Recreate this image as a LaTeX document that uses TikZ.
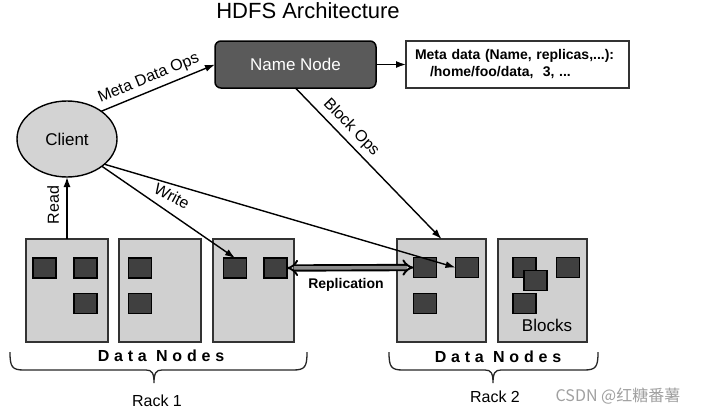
\documentclass[tikz,border=0pt]{standalone}
\usepackage{fontspec}
\setmainfont{Liberation Sans}
\newfontfamily\cjkfont{Noto Sans CJK SC}
\newfontfamily\spacedfont[LetterSpace=30]{Liberation Sans}
\usetikzlibrary{arrows.meta,shapes.geometric}
\definecolor{nnfill}{HTML}{5A5A5A}
\definecolor{boxfill}{HTML}{D0D0D0}
\definecolor{blkfill}{HTML}{404040}
\definecolor{clientfill}{HTML}{D3D3D3}
\definecolor{wmark}{HTML}{A0A0A0}
\begin{document}
\begin{tikzpicture}[x=1pt,y=-1pt,
  every node/.style={inner sep=0pt, outer sep=0pt},
  lbl/.style={font=\fontsize{16}{19}\selectfont},
  datanode/.style={draw=black!80, fill=boxfill, line width=1.3pt, minimum width=82pt, minimum height=103pt},
  block/.style={draw=black, fill=blkfill, line width=1.1pt, minimum width=23pt, minimum height=20pt},
  conn/.style={line width=1.4pt, -{Latex[length=10pt,width=7pt]}},
  dnlabel/.style={font=\spacedfont\bfseries\fontsize{16}{18}\selectfont},
  bracestyle/.style={line width=1.3pt, black!85}
]
\useasboundingbox (0,0) rectangle (703,415);
\fill[white] (0,0) rectangle (703,415);

% title
\node[font=\fontsize{22}{26}\selectfont] (title) at (308,11) {HDFS Architecture};

% name node and metadata
\node[draw=black, fill=nnfill, line width=1.5pt, rounded corners=6pt,
      minimum width=161pt, minimum height=47pt, text=white,
      font=\fontsize{17}{20}\selectfont] (nn) at (295.5,64.5) {Name Node};
\node[draw=black!80, line width=1.1pt, minimum width=223pt, minimum height=47pt,
      text width=205pt, align=left, font=\bfseries\fontsize{14}{17}\selectfont]
      (meta) at (517.5,64.5) {Meta data (Name, replicas,...):\\\hspace*{15pt}/home/foo/data,\ \ 3, ...};
\draw[conn] (nn.east) -- (meta.west);

% client
\node[ellipse, draw=black, fill=clientfill, line width=1.4pt,
      minimum width=100pt, minimum height=76pt,
      font=\fontsize{17}{20}\selectfont] (client) at (67,139) {Client};

% data nodes, rack 1
\node[datanode] (dn1) at (67,290.5) {};
\node[datanode] (dn2) at (160,290.5) {};
\node[datanode, minimum width=81pt] (dn3) at (253.5,290.5) {};
% data nodes, rack 2
\node[datanode, minimum width=89pt] (dn4) at (441.5,290.5) {};
\node[datanode, minimum width=89pt] (dn5) at (542.5,290.5) {};

% blocks
\node[block] (b11) at (44.5,268) {};
\node[block] (b12) at (85.5,268) {};
\node[block] (b13) at (85.5,303.5) {};
\node[block] (b21) at (140,268) {};
\node[block] (b22) at (140,303.5) {};
\node[block] (b31) at (235,268) {};
\node[block] (b32) at (275.5,268) {};
\node[block] (b41) at (425,267.5) {};
\node[block] (b42) at (467,267.5) {};
\node[block] (b43) at (425,303.5) {};
\node[block] (b51) at (524.5,267.5) {};
\node[block] (b52) at (535.5,280.5) {};
\node[block] (b53) at (568,267.5) {};
\node[block] (b54) at (524.5,303.5) {};
\node[lbl, font=\fontsize{17}{20}\selectfont] (blocks) at (547,325) {Blocks};

% connectors
\draw[conn] (client.39) -- (nn.west)
  node[pos=0.46, above=5pt, sloped, lbl] (mdo) {Meta Data Ops};
\draw[conn] (nn.south) -- (dn4.north)
  node[pos=0.32, above=5pt, sloped, lbl] (bops) {Block Ops};
\draw[conn] (client.-38) -- (b31.north);
\draw[conn] (client.-34) -- (b42.west);
\node[lbl, rotate=-28] (writelbl) at (172,196) {Write};
\draw[conn] (dn1.north) -- (client.south)
  node[pos=0.55, above=8pt, sloped, lbl] (readlbl) {Read};

% replication
\draw[line width=1.9pt, double=black!45, double distance=3.5pt,
      {Implies}-{Implies}] (b32.east) -- (b41.west);
\node[font=\bfseries\fontsize{14}{16}\selectfont] (repl) at (346,285) {Replication};

% data node labels
\node[dnlabel] (dnl1) at (161,356) {Data Nodes};
\node[dnlabel] (dnl2) at (498,357) {Data Nodes};

% braces
\draw[bracestyle] (10,352) .. controls (10,367) and (12,370) .. (24,370) -- (146,370)
  .. controls (152,370) and (154,373) .. (154,383)
  .. controls (154,373) and (156,370) .. (162,370) -- (293,370)
  .. controls (305,370) and (307,367) .. (307,352);
\draw[bracestyle] (389,352) .. controls (389,367) and (391,370) .. (403,370) -- (485,370)
  .. controls (491,370) and (493,373) .. (493,383)
  .. controls (493,373) and (495,370) .. (501,370) -- (584,370)
  .. controls (596,370) and (598,367) .. (598,352);

\node[lbl] (rack1) at (157,401) {Rack 1};
\node[lbl] (rack2) at (495,397) {Rack 2};

% watermark
\node[font=\cjkfont\fontsize{16}{19}\selectfont, text=wmark] (wm) at (618,396) {CSDN @红糖番薯};
\end{tikzpicture}
\end{document}
